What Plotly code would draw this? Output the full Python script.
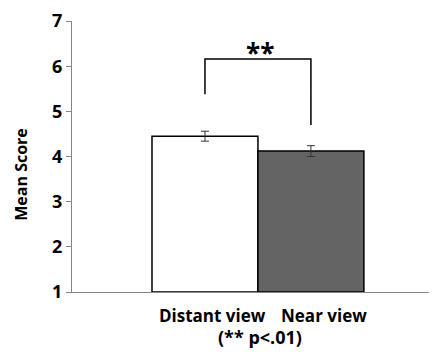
import plotly.graph_objects as go

categories = ["Distant view", "Near view"]
means = [4.45, 4.12]
errors = [0.11, 0.12]
bar_colors = ["#ffffff", "#646464"]
y_ticks = [1, 2, 3, 4, 5, 6, 7]
bracket_x = [0, 0, 1, 1]
bracket_y = [5.38, 6.16, 6.16, 4.70]
sig_label = "**"
note = "(** p<.01)"
y_title = "Mean Score"

FONT = "Open Sans, sans-serif"
xpos = list(range(len(categories)))

fig = go.Figure()
fig.add_trace(go.Bar(
    x=xpos, y=[m - 1 for m in means], base=1, width=1.0,
    marker=dict(color=bar_colors, line=dict(color="#000000", width=1.5)),
    error_y=dict(type="data", array=errors, color="#333333", thickness=1, width=4),
    showlegend=False, hoverinfo="skip",
))
fig.add_trace(go.Scatter(
    x=bracket_x, y=bracket_y, mode="lines",
    line=dict(color="#000000", width=1.5), showlegend=False, hoverinfo="skip",
))

fig.add_annotation(x=0.52, y=6.29, xref="x", yref="y", text="<b>" + sig_label + "</b>",
                   showarrow=False, yanchor="middle", font=dict(family=FONT, size=26, color="#000"))
fig.add_annotation(x=0.07, y=-0.087, xref="x", yref="paper", text="<b>" + categories[0] + "</b>",
                   showarrow=False, yanchor="middle", font=dict(family=FONT, size=17, color="#000"))
fig.add_annotation(x=1.12, y=-0.087, xref="x", yref="paper", text="<b>" + categories[1] + "</b>",
                   showarrow=False, yanchor="middle", font=dict(family=FONT, size=17, color="#000"))
fig.add_annotation(x=0.52, y=-0.167, xref="x", yref="paper", text="<b>" + note + "</b>",
                   showarrow=False, yanchor="middle", font=dict(family=FONT, size=18, color="#000"))
fig.add_annotation(x=-0.14, y=0.436, xref="paper", yref="paper", text="<b>" + y_title + "</b>",
                   textangle=-90, showarrow=False, xanchor="center", yanchor="middle",
                   font=dict(family=FONT, size=16, color="#000"))

fig.update_layout(
    width=429, height=344,
    margin=dict(l=64, r=0, t=9, b=60),
    paper_bgcolor="white", plot_bgcolor="white",
    font=dict(family=FONT, color="#000"),
)
fig.update_xaxes(range=[-1.255, 2.19], showticklabels=False, showgrid=False, zeroline=False,
                 showline=True, linecolor="#868686", linewidth=1)
fig.update_yaxes(range=[1, 7.0005], tickvals=y_ticks, ticktext=["<b>%d</b>" % v for v in y_ticks],
                 showgrid=False, zeroline=False, showline=True, linecolor="#868686", linewidth=1,
                 ticks="outside", ticklen=5, tickcolor="#868686", ticklabeloverflow="allow",
                 tickfont=dict(family=FONT, size=18, color="#000"))

fig.write_html("out.html")
